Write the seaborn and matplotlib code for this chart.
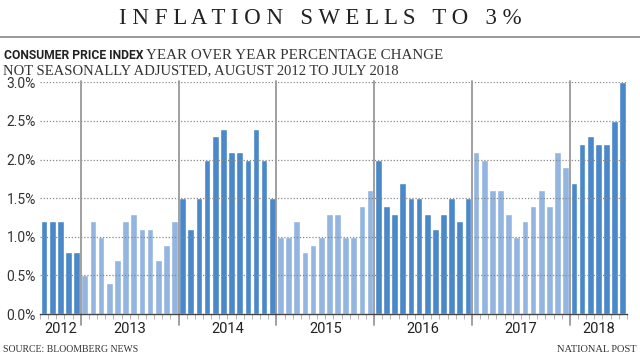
import matplotlib
matplotlib.use("Agg")
import matplotlib.pyplot as plt
import seaborn as sns
import pandas as pd
import numpy as np

# CPI year over year % change, Aug 2012 - Jul 2018
years = ["2012", "2013", "2014", "2015", "2016", "2017", "2018"]
cpi_2012 = [1.2, 1.2, 1.2, 0.8, 0.8]
cpi_2013 = [0.5, 1.2, 1.0, 0.4, 0.7, 1.2, 1.3, 1.1, 1.1, 0.7, 0.9, 1.2]
cpi_2014 = [1.5, 1.1, 1.5, 2.0, 2.3, 2.4, 2.1, 2.1, 2.0, 2.4, 2.0, 1.5]
cpi_2015 = [1.0, 1.0, 1.2, 0.8, 0.9, 1.0, 1.3, 1.3, 1.0, 1.0, 1.4, 1.6]
cpi_2016 = [2.0, 1.4, 1.3, 1.7, 1.5, 1.5, 1.3, 1.1, 1.3, 1.5, 1.2, 1.5]
cpi_2017 = [2.1, 2.0, 1.6, 1.6, 1.3, 1.0, 1.2, 1.4, 1.6, 1.4, 2.1, 1.9]
cpi_2018 = [1.7, 2.2, 2.3, 2.2, 2.2, 2.5, 3.0]
yticks = [0.0, 0.5, 1.0, 1.5, 2.0, 2.5, 3.0]

series = [cpi_2012, cpi_2013, cpi_2014, cpi_2015, cpi_2016, cpi_2017, cpi_2018]
rows = []
for yi, (yr, vals) in enumerate(zip(years, series)):
    for v in vals:
        rows.append({"year": yr, "value": v, "shade": "dark" if yi % 2 == 0 else "light"})
df = pd.DataFrame(rows)
df["month"] = [str(i) for i in range(len(df))]

DARK = "#4a88c9"
LIGHT = "#93b5df"
SERIF = ["Liberation Serif", "DejaVu Serif"]
SANS = ["Liberation Sans Narrow", "Roboto", "DejaVu Sans"]

sns.set_theme(style="white")
plt.rcParams["font.family"] = SANS

fig = plt.figure(figsize=(6.4, 3.61), dpi=100)
ax = fig.add_axes([0.0625, 0.130, 0.917, 0.642])

sns.barplot(data=df, x="month", y="value", hue="shade",
            palette={"dark": DARK, "light": LIGHT}, width=0.82,
            dodge=False, legend=False, ax=ax, saturation=1, zorder=1)

n = len(df)
ax.set_xlim(-0.5, n - 0.5)
ax.set_ylim(0, 3.0)
ax.set_yticks(yticks)
ax.set_yticklabels([f"{t:.1f}%" for t in yticks], fontsize=10, color="#333333")
for t in yticks[1:]:
    ax.axhline(t, color="#888888", lw=0.9, ls=(0, (1, 1.5)), zorder=3)

# year separators and labels
counts = [len(s) for s in series]
bounds = np.cumsum([0] + counts) - 0.5
for b in bounds[1:-1]:
    ax.plot([b, b], [3.02, -0.14], color="#999999", lw=1.3, clip_on=False, zorder=4)
for yr, lo, hi in zip(years, bounds[:-1], bounds[1:]):
    ax.text((lo + hi) / 2, -0.1, yr, ha="center", va="top", fontsize=10.5,
            color="#222222", transform=ax.transData)

ax.set_xticks([])
ax.set_xticks(np.arange(n + 1) - 0.5, minor=True)
ax.tick_params(axis="x", which="minor", bottom=True, length=3.5, color="#aaaaaa", width=0.6)
ax.tick_params(axis="y", length=0, pad=3)
ax.set_xlabel("")
ax.set_ylabel("")
for s in ["top", "right", "left"]:
    ax.spines[s].set_visible(False)
ax.spines["bottom"].set_color("#444444")
ax.spines["bottom"].set_linewidth(1.0)
ax.spines["bottom"].set_zorder(5)

# title block
fig.text(0.5, 0.950, "I N F L A T I O N   S W E L L S   T O   3 %", ha="center", va="center",
         fontsize=16.5, family=SERIF, color="#222222")
fig.add_artist(plt.Line2D([0, 1], [0.898, 0.898], color="#888888", lw=1.2))
bold = fig.text(0.006, 0.846, "CONSUMER PRICE INDEX", fontsize=8.7, weight="bold",
                family=SANS, color="#222222", va="center")
fig.canvas.draw()
bb = bold.get_window_extent(fig.canvas.get_renderer())
x_after = (bb.x1 + 3) / fig.bbox.width
fig.text(x_after, 0.846, "YEAR OVER YEAR PERCENTAGE CHANGE", fontsize=10.8,
         family=SERIF, color="#333333", va="center")
fig.text(0.004, 0.804, "NOT SEASONALLY ADJUSTED, AUGUST 2012 TO JULY 2018", fontsize=10.5,
         family=SERIF, color="#333333", va="center")

fig.text(0.004, 0.032, "SOURCE: BLOOMBERG NEWS", fontsize=7.0, family=SERIF,
         color="#333333", va="center")
fig.text(0.995, 0.032, "NATIONAL POST", fontsize=7.5, family=SERIF,
         color="#333333", va="center", ha="right")

fig.savefig("out.png", dpi=100)
